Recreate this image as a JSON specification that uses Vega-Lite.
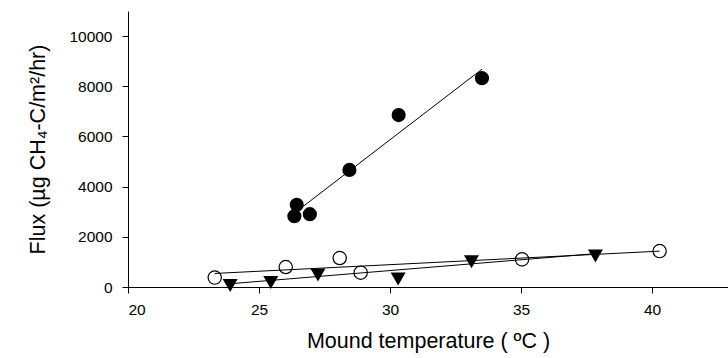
{
  "$schema": "https://vega.github.io/schema/vega-lite/v6.json",
  "width": 600,
  "height": 276,
  "autosize": {"type": "none"},
  "padding": {"left": 128, "top": 11, "right": 0, "bottom": 71},
  "config": {
    "view": {"stroke": null},
    "font": "Liberation Sans",
    "axis": {
      "grid": false,
      "domainColor": "black",
      "domainWidth": 1,
      "tickColor": "black",
      "tickSize": 6,
      "labelColor": "black",
      "labelFontSize": 15.5,
      "titleColor": "black",
      "titleFontSize": 21.5,
      "titleFontWeight": "normal"
    }
  },
  "datasets": {
    "points": [
      {"temp": 26.44, "flux": 3275, "series": "A"},
      {"temp": 26.35, "flux": 2822, "series": "A"},
      {"temp": 26.94, "flux": 2902, "series": "A"},
      {"temp": 28.45, "flux": 4667, "series": "A"},
      {"temp": 30.33, "flux": 6853, "series": "A"},
      {"temp": 33.51, "flux": 8324, "series": "A"},
      {"temp": 23.31, "flux": 374, "series": "B"},
      {"temp": 26.02, "flux": 795, "series": "B"},
      {"temp": 28.08, "flux": 1153, "series": "B"},
      {"temp": 28.88, "flux": 572, "series": "B"},
      {"temp": 35.04, "flux": 1101, "series": "B"},
      {"temp": 40.29, "flux": 1431, "series": "B"},
      {"temp": 23.9, "flux": 60, "series": "C"},
      {"temp": 25.45, "flux": 180, "series": "C"},
      {"temp": 27.25, "flux": 480, "series": "C"},
      {"temp": 30.31, "flux": 320, "series": "C"},
      {"temp": 33.11, "flux": 1010, "series": "C"},
      {"temp": 37.84, "flux": 1240, "series": "C"}
    ],
    "fits": [
      {"temp": 26.35, "flux": 2945, "series": "A"},
      {"temp": 33.51, "flux": 8680, "series": "A"},
      {"temp": 23.31, "flux": 540, "series": "B"},
      {"temp": 40.29, "flux": 1429, "series": "B"},
      {"temp": 23.9, "flux": 130, "series": "C"},
      {"temp": 37.84, "flux": 1330, "series": "C"}
    ]
  },
  "encoding": {
    "x": {
      "field": "temp",
      "type": "quantitative",
      "scale": {"domain": [20, 42.9], "nice": false, "zero": false},
      "axis": {"values": [20, 25, 30, 35, 40], "title": "Mound temperature ( ºC )", "labelPadding": 9, "titlePadding": 13}
    },
    "y": {
      "field": "flux",
      "type": "quantitative",
      "scale": {"domain": [0, 11000], "nice": false},
      "axis": {"values": [0, 2000, 4000, 6000, 8000, 10000], "format": "d", "title": "Flux (µg CH₄-C/m²/hr)", "labelPadding": 10, "titlePadding": 19}
    }
  },
  "layer": [
    {
      "data": {"name": "fits"},
      "mark": {"type": "line", "color": "black", "strokeWidth": 1},
      "encoding": {"detail": {"field": "series"}}
    },
    {
      "data": {"name": "points"},
      "transform": [{"filter": "datum.series === 'A'"}],
      "mark": {"type": "point", "shape": "circle", "filled": true, "color": "black", "opacity": 1, "size": 200}
    },
    {
      "data": {"name": "points"},
      "transform": [{"filter": "datum.series === 'B'"}],
      "mark": {"type": "point", "shape": "circle", "filled": false, "color": "black", "opacity": 1, "strokeWidth": 1.2, "size": 177}
    },
    {
      "data": {"name": "points"},
      "transform": [{"filter": "datum.series === 'C'"}],
      "mark": {"type": "point", "shape": "triangle-down", "filled": true, "color": "black", "opacity": 1, "size": 225}
    },
    {
      "data": {"values": [{}]},
      "mark": {"type": "rule", "color": "black", "strokeWidth": 1},
      "encoding": {"y": {"datum": 11000}, "x": {"value": 0}, "x2": {"value": 600}}
    }
  ]
}
